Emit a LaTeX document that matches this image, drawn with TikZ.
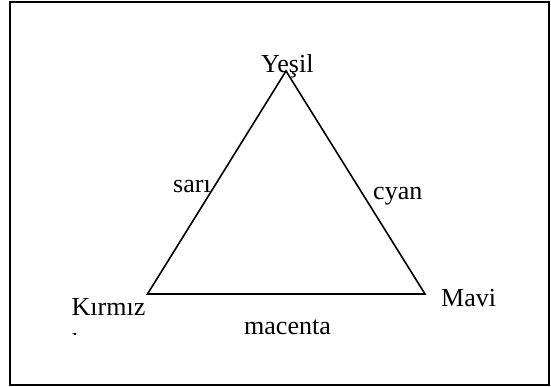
\documentclass[tikz,border=0pt]{standalone}
\usepackage{fontspec}
\setmainfont{Liberation Serif}
\begin{document}
\begin{tikzpicture}[x=1pt,y=-1pt,
  lbl/.style={anchor=base west,inner sep=0pt,font=\fontsize{26}{30}\selectfont},
  edge/.style={line width=1.6pt,line join=miter}]
\useasboundingbox (0,0) rectangle (551,387);
\draw[line width=2pt] (10,2.2) rectangle (549,384.5) ;
\coordinate (Y) at (286,71);
\coordinate (K) at (147.5,294);
\coordinate (M) at (425,294);
\draw[edge] (K) -- (Y) -- (M) -- cycle;
\node[lbl] (yesil) at (261,73) {Yeşil};
\node[lbl] (sari) at (173,193) {sarı};
\node[lbl] (cyan) at (373,199.5) {cyan};
\node[lbl] (mavi) at (441,306.5) {Mavi};
\node[lbl] (kirmiz) at (71.5,315) {Kırmız};
\node[lbl] (macenta) at (244,334) {macenta};
\begin{scope}
\clip (60,320) rectangle (90,334.5);
\node[lbl] (kirmizi) at (71.5,345) {ı};
\end{scope}
\end{tikzpicture}
\end{document}
